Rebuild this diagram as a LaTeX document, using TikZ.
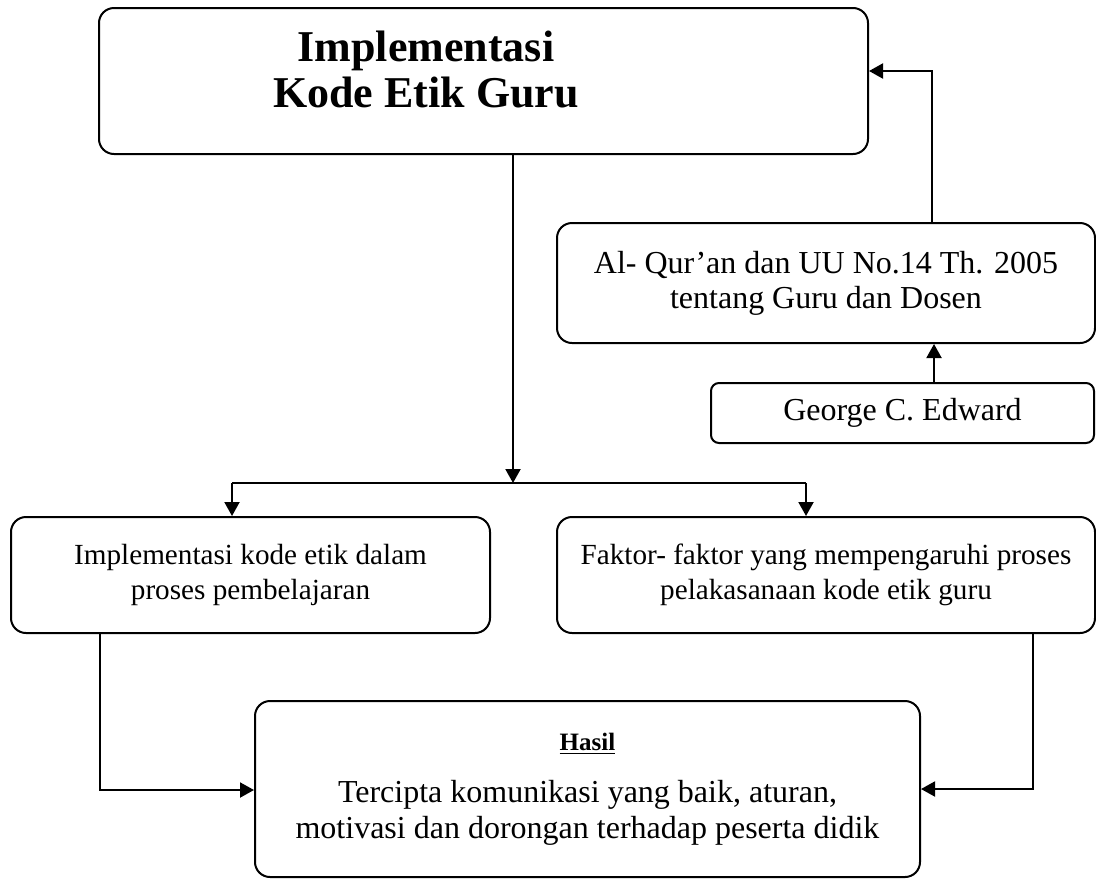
\documentclass[tikz,border=0pt]{standalone}
\usepackage{fontspec}
\setmainfont{Liberation Serif}
\usetikzlibrary{arrows.meta}

\tikzset{
	kotak/.style={draw, line width=1pt, rounded corners=7.5pt, align=center, inner sep=0pt, font=\fontsize{16}{17.5}\selectfont},
	tengah/.style={kotak, minimum height=58pt, font=\fontsize{14.6}{17.5}\selectfont},
	panah/.style={line width=1pt, -{Triangle[length=7pt, width=7.5pt]}},
	garis/.style={line width=1pt},
}

\begin{document}
\begin{tikzpicture}[x=0.5pt, y=-0.5pt]

\useasboundingbox (0,0) rectangle (1096,879);

% kotak-kotak
\node[kotak, minimum width=384.5pt, minimum height=73pt] (kode) at (483.5,81) {};
\node[align=center, font=\fontsize{22}{23}\selectfont\bfseries] (judul) at (426,69) {Implementasi\\Kode Etik Guru};
\node[kotak, minimum width=269pt, minimum height=60pt] (quran) at (826,283) {Al- Qur’an dan UU No.14 Th. 2005\\tentang Guru dan Dosen};
\node[kotak, minimum width=191.5pt, minimum height=30pt, rounded corners=4pt] (edward) at (902.5,413) {George C. Edward};
\node[tengah, minimum width=239.5pt] (proses) at (250.5,575) {Implementasi kode etik dalam\\proses pembelajaran};
\node[tengah, minimum width=269pt] (faktor) at (826,575) {Faktor- faktor yang mempengaruhi proses\\pelakasanaan kode etik guru};
\node[kotak, minimum width=332.5pt, minimum height=88pt, font=\fontsize{16}{18}\selectfont] (hasil) at (587.5,789) {{\fontsize{12.5}{14}\selectfont\textbf{\underline{Hasil}}}\\[8pt]Tercipta komunikasi yang baik, aturan,\\motivasi dan dorongan terhadap peserta didik};

% titik bantu
\coordinate (cabang) at (513,483);
\coordinate (kiri) at (232,483);
\coordinate (kanan) at (806,483);
\coordinate (naik) at (934,0);
\coordinate (balik) at (932,71);
\coordinate (bawahkiri) at (100,790);
\coordinate (bawahkanan) at (1033,789);

% panah
\draw[panah] (cabang |- kode.south) -- (cabang);
\draw[garis] (kiri) -- (kanan);
\draw[panah] (kiri) -- (kiri |- proses.north);
\draw[panah] (kanan) -- (kanan |- faktor.north);
\draw[panah] (naik |- edward.north) -- (naik |- quran.south);
\draw[panah] (balik |- quran.north) -- (balik) -- (balik -| kode.east);
\draw[panah] (bawahkiri |- proses.south) -- (bawahkiri) -- (bawahkiri -| hasil.west);
\draw[panah] (bawahkanan |- faktor.south) -- (bawahkanan) -- (bawahkanan -| hasil.east);

\end{tikzpicture}
\end{document}
